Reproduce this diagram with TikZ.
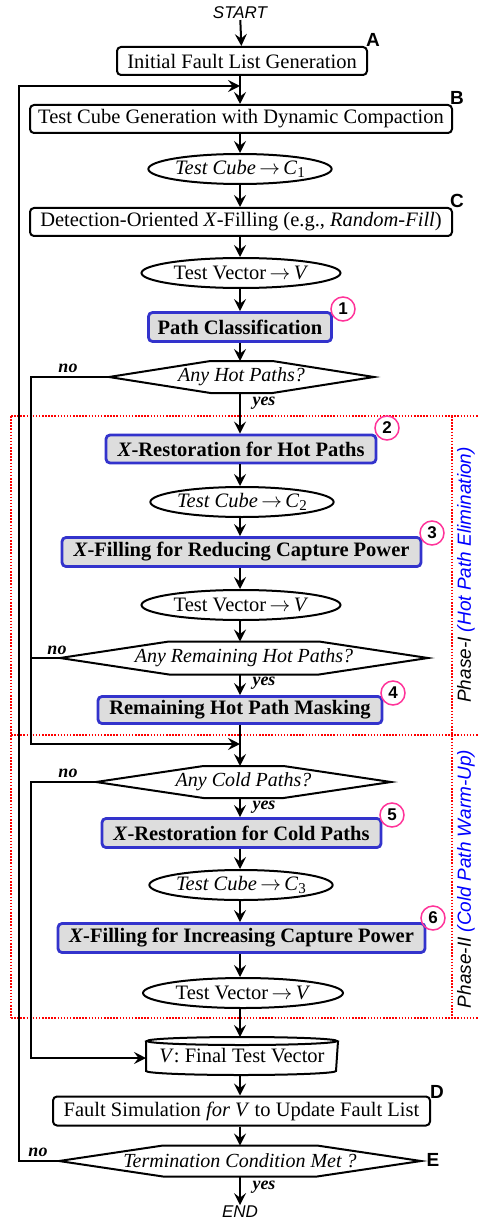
\documentclass[tikz,border=0pt]{standalone}
\usepackage{fontspec}
\setmainfont{Liberation Serif}
\setsansfont{Liberation Sans}
\usetikzlibrary{arrows.meta,calc,shapes.geometric}
\definecolor{stepblue}{HTML}{3333CC}
\definecolor{stepgray}{HTML}{DDDDDD}
\definecolor{tagpink}{HTML}{FF3399}
\definecolor{phasered}{HTML}{FF0000}
\definecolor{phaseblue}{HTML}{0000FF}
% hexagonal decision outline around a named node; #2 = half length of the flat top/bottom
\newcommand\drawcond[2]{%
  \draw (#1.west) -- ($(#1.north)+(-#2,0)$) -- ($(#1.north)+(#2,0)$) -- (#1.east)
        -- ($(#1.south)+(#2,0)$) -- ($(#1.south)+(-#2,0)$) -- cycle;}
\newcommand\subidx[1]{\raisebox{-0.35ex}{\fontsize{15}{15}\selectfont #1}}
\newcommand\goesto{\,$\rightarrow$\,}
\begin{document}
\begin{tikzpicture}[x=1pt,y=-1pt,
  line width=2pt,
  >={Stealth[length=12pt,width=12pt,inset=4.5pt]},
  proc/.style={draw,rounded corners=4pt,inner sep=0pt,font=\fontsize{20.5}{22}\selectfont},
  key/.style={draw=stepblue,fill=stepgray,line width=2.8pt,rounded corners=4pt,inner sep=0pt,
    font=\bfseries\fontsize{20.5}{22}\selectfont},
  data/.style={draw,ellipse,inner sep=0pt,minimum height=30pt,font=\fontsize{20.5}{22}\selectfont},
  cond/.style={inner sep=0pt,font=\itshape\fontsize{20}{22}\selectfont},
  tag/.style={font=\sffamily\bfseries\fontsize{19}{19}\selectfont,inner sep=0pt},
  num/.style={draw=tagpink,circle,line width=1.5pt,minimum size=24pt,inner sep=0pt,
    font=\sffamily\bfseries\fontsize{17}{17}\selectfont},
  ans/.style={font=\bfseries\itshape\fontsize{18}{18}\selectfont,inner sep=0pt},
  term/.style={font=\sffamily\itshape\fontsize{17}{17}\selectfont,inner sep=0pt},
  phase/.style={draw=phasered,line width=1.4pt,dash pattern=on 1.5pt off 1.6pt},
  phaselabel/.style={rotate=90,font=\sffamily\itshape\fontsize{19}{19}\selectfont,inner sep=0pt}]

\useasboundingbox (0,0) rectangle (479,1222);

% phase frames
\draw[phase] (11,416) -- (479,416);
\draw[phase] (11,735) -- (479,735);
\draw[phase] (11,1018) -- (479,1018);
\draw[phase] (11,416) -- (11,1018);
\draw[phase] (452,416) -- (452,1018);
\node[phaselabel] (ph1) at (466,575) {Phase-I \textcolor{phaseblue}{(Hot Path Elimination)}};
\node[phaselabel] (ph2) at (466,879) {Phase-II \textcolor{phaseblue}{(Cold Path Warm-Up)}};

% terminals
\node[term] (start) at (240,13) {START};
\node[term] (stop) at (240,1212) {END};

% main column
\node[proc,minimum width=250pt,minimum height=28pt] (A) at (242,61) {Initial Fault List Generation};
\node[proc,minimum width=422pt,minimum height=28pt] (B) at (241,119) {Test Cube Generation with Dynamic Compaction};
\node[data,minimum width=180pt] (c1) at (240,169) {\textit{Test Cube}\goesto\textit{C}\subidx{1}};
\node[proc,minimum width=422pt,minimum height=28pt] (C) at (241,222) {Detection-Oriented \textit{X}-Filling (e.g., \textit{Random-Fill})};
\node[data,minimum width=199pt] (v1) at (241,273) {Test Vector\goesto\textit{V}};
\node[key,minimum width=183pt,minimum height=29pt] (s1) at (240,327) {Path Classification};
\node[cond,minimum width=263pt,minimum height=30pt] (h1) at (241.5,377) {Any Hot Paths?};
\drawcond{h1}{31}

\node[key,minimum width=270pt,minimum height=28pt] (s2) at (241,449) {\textit{X}-Restoration for Hot Paths};
\node[data,minimum width=183pt] (c2) at (242,502) {\textit{Test Cube}\goesto\textit{C}\subidx{2}};
\node[key,minimum width=359pt,minimum height=29pt] (s3) at (241.5,552) {\textit{X}-Filling for Reducing Capture Power};
\node[data,minimum width=199pt] (v2) at (241,605) {Test Vector\goesto\textit{V}};
\node[cond,minimum width=366pt,minimum height=31pt] (h2) at (244,658) {Any Remaining Hot Paths?};
\drawcond{h2}{75}
\node[key,minimum width=284pt,minimum height=27pt] (s4) at (240,710) {Remaining Hot Path Masking};

\coordinate (merge) at (240,744);
\node[cond,minimum width=293pt,minimum height=30pt] (h3) at (243.5,782) {Any Cold Paths?};
\drawcond{h3}{40}
\node[key,minimum width=279pt,minimum height=29pt] (s5) at (241.5,833) {\textit{X}-Restoration for Cold Paths};
\node[data,minimum width=183pt] (c3) at (241,885) {\textit{Test Cube}\goesto\textit{C}\subidx{3}};
\node[key,minimum width=367pt,minimum height=29pt] (s6) at (241.5,938) {\textit{X}-Filling for Increasing Capture Power};
\node[data,minimum width=200pt] (v3) at (243,993) {Test Vector\goesto\textit{V}};

% final vector store (drum shape)
\node[inner sep=0pt,minimum width=190pt,minimum height=36pt,font=\fontsize{20.5}{22}\selectfont] (fin) at (242,1056) {\textit{V}: Final Test Vector};
\draw ($(fin.north west)+(0,4)$) -- ($(fin.south west)+(0,-4)$)
  arc[start angle=180,end angle=360,x radius=95pt,y radius=4pt] -- ($(fin.north east)+(0,4)$);
\draw ($(fin.north)+(0,4)$) ellipse[x radius=95pt,y radius=4pt];

\node[proc,minimum width=377pt,minimum height=29pt] (D) at (241.5,1111) {Fault Simulation \textit{for V} to Update Fault List};
\node[cond,minimum width=360pt,minimum height=29pt] (h4) at (240,1161) {Termination Condition Met ?};
\drawcond{h4}{77}

% letter tags
\node[tag] (tA) at (373,40) {A};
\node[tag] (tB) at (457,98) {B};
\node[tag] (tC) at (457,201) {C};
\node[tag] (tD) at (437,1092) {D};
\node[tag] (tE) at (433,1160) {E};

% step numbers
\node[num] (n1) at (343,309) {1};
\node[num] (n2) at (387,428) {2};
\node[num] (n3) at (432,533) {3};
\node[num] (n4) at (393,693) {4};
\node[num] (n5) at (392,815) {5};
\node[num] (n6) at (433,918) {6};

% answers
\node[ans] (no1) at (68,368) {no};
\node[ans] (no2) at (57,650) {no};
\node[ans] (no3) at (68,773) {no};
\node[ans] (no4) at (38,1152) {no};
\node[ans] (y1) at (264,403) {yes};
\node[ans] (y2) at (264,683) {yes};
\node[ans] (y3) at (264,807) {yes};
\node[ans] (y4) at (264,1187) {yes};

% straight flow
\draw[->] (start) -- (A);
\draw[->] (A.south -| 240,0) -- (B.north -| 240,0);
\draw[->] (B.south -| 240,0) -- (c1.north -| 240,0);
\draw[->] (c1.south -| 240,0) -- (C.north -| 240,0);
\draw[->] (C.south -| 240,0) -- (v1.north -| 240,0);
\draw[->] (v1.south -| 240,0) -- (s1.north -| 240,0);
\draw[->] (s1.south -| 240,0) -- (h1.north -| 240,0);
\draw[->] (h1.south -| 240,0) -- (s2.north -| 240,0);
\draw[->] (s2.south -| 240,0) -- (c2.north -| 240,0);
\draw[->] (c2.south -| 240,0) -- (s3.north -| 240,0);
\draw[->] (s3.south -| 240,0) -- (v2.north -| 240,0);
\draw[->] (v2.south -| 240,0) -- (h2.north -| 240,0);
\draw[->] (h2.south -| 240,0) -- (s4.north -| 240,0);
\draw[->] (s4.south -| 240,0) -- (h3.north -| 240,0);
\draw[->] (h3.south -| 240,0) -- (s5.north -| 240,0);
\draw[->] (s5.south -| 240,0) -- (c3.north -| 240,0);
\draw[->] (c3.south -| 240,0) -- (s6.north -| 240,0);
\draw[->] (s6.south -| 240,0) -- (v3.north -| 240,0);
\draw[->] (v3.south -| 240,0) -- (fin.north -| 240,0);
\draw[->] (fin.south -| 240,0) -- (D.north -| 240,0);
\draw[->] (D.south -| 240,0) -- (h4.north -| 240,0);
\draw[->] (h4.south -| 240,0) -- (stop.north -| 240,0);

% branches
\coordinate (loopin) at (240,86);
\draw[->] (h4.west) -- (19,1161) -- (19,86) -- (loopin);
\draw[->] (h1.west) -- (31,377) -- (31,744) -- (merge);
\draw (h2.west) -- (31,658);
\draw[->] (h3.west) -- (31,782) -- (31,1058) -- (fin.west |- 0,1058);
\end{tikzpicture}
\end{document}
